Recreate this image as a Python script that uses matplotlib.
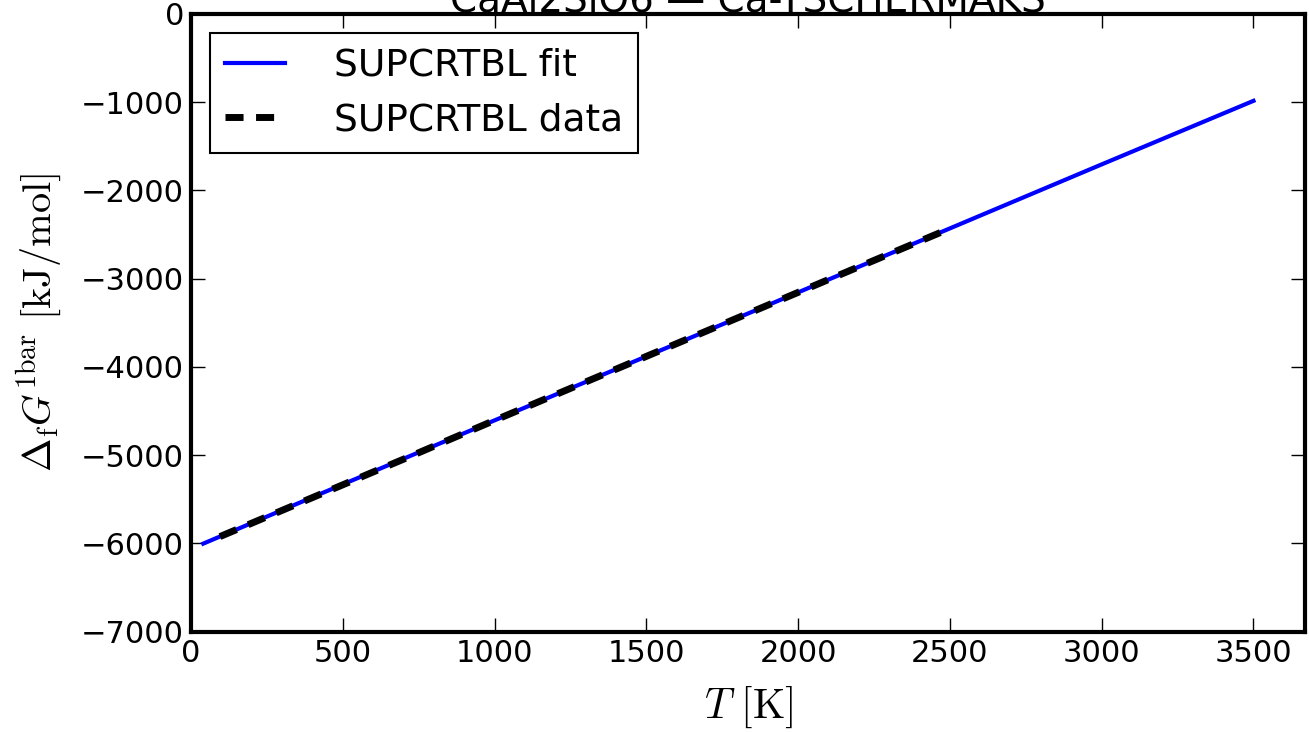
import matplotlib
matplotlib.use('Agg')
import matplotlib.pyplot as plt

plt.rcParams['mathtext.fontset'] = 'cm'
plt.rcParams['lines.scale_dashes'] = False

# fitted curve
fit_T = [40, 500, 1000, 1500, 2000, 2500, 3000, 3500]
fit_G = [-6002, -5330, -4605, -3880, -3155, -2430, -1705, -985]

# tabulated data
data_T = [95, 400, 700, 1000, 1300, 1600, 1900, 2200, 2470]
data_G = [-5922, -5480, -5045, -4605, -4170, -3735, -3300, -2865, -2475]

xticks = [0, 500, 1000, 1500, 2000, 2500, 3000, 3500]
yticks = [0, -1000, -2000, -3000, -4000, -5000, -6000, -7000]

fig = plt.figure(figsize=(13.09, 7.32), dpi=100)
ax = fig.add_axes([0.146, 0.137, 0.851, 0.844])

ax.plot(fit_T, fit_G, color='blue', lw=3, label='SUPCRTBL fit')
ax.plot(data_T, data_G, color='black', lw=5, dashes=(13, 9), label='SUPCRTBL data')

ax.set_xlim(0, 3670)
ax.set_ylim(-7000, 0)
ax.set_xticks(xticks)
ax.set_yticks(yticks)
ax.set_yticklabels(['0' if v == 0 else '\u2212%d' % -v for v in yticks])

for sp in ax.spines.values():
    sp.set_linewidth(3)
ax.tick_params(direction='in', length=10, width=1, top=True, right=True,
               labelsize=22, pad=5)

ax.set_xlabel(r'$T\ [\mathrm{K}]$', fontsize=30, labelpad=12)
ax.set_ylabel(r'$\Delta_{\mathrm{f}}G^{\mathrm{1bar}}\ [\mathrm{kJ/mol}]$', fontsize=29, labelpad=12)
ax.set_title('CaAl2SiO6 \u2014 Ca-TSCHERMAKS', fontsize=28, y=0.99)

leg = ax.legend(loc='upper left', fontsize=27, fancybox=False, framealpha=1,
                handlelength=1.6, handletextpad=1.3, borderaxespad=0.5,
                borderpad=0.4, labelspacing=0.5)
leg.get_frame().set_edgecolor('black')
leg.get_frame().set_linewidth(1.5)

fig.savefig('out.png', dpi=100)
